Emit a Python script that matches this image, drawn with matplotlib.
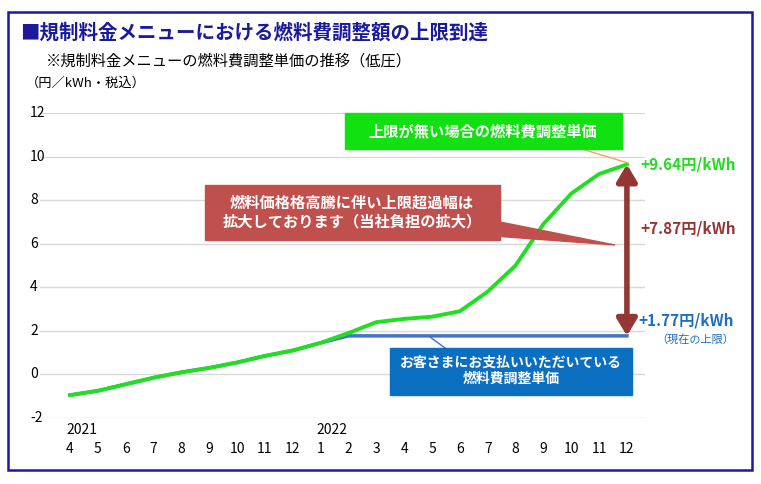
import matplotlib
matplotlib.use("Agg")
import matplotlib.pyplot as plt
from matplotlib.patches import Rectangle, Polygon

plt.rcParams['font.family'] = ['Noto Sans CJK JP', 'DejaVu Sans']

months = ['4','5','6','7','8','9','10','11','12','1','2','3','4','5','6','7','8','9','10','11','12']
years = {0: '2021', 9: '2022'}
uncapped = [-0.95,-0.75,-0.45,-0.15,0.1,0.3,0.55,0.85,1.1,1.45,1.9,2.4,2.55,2.65,2.9,3.8,5.0,6.9,8.3,9.2,9.64]
paid = [-0.95,-0.75,-0.45,-0.15,0.1,0.3,0.55,0.85,1.1,1.45,1.77,1.77,1.77,1.77,1.77,1.77,1.77,1.77,1.77,1.77,1.77]
yticks = [-2,0,2,4,6,8,10,12]

W, H = 761, 484
fig = plt.figure(figsize=(W/100, H/100), dpi=100)
def fx(p): return p/W
def fy(p): return 1-p/H

fig.patches.append(Rectangle((fx(8), fy(470)), fx(744), (470-12)/H, transform=fig.transFigure,
                             fill=False, edgecolor='#1a1aa0', lw=1.8))
ax = fig.add_axes([fx(40), fy(418), fx(605), (418-113)/H])
x = list(range(len(months)))
ax.set_xlim(-1.08, 20.65)
ax.set_ylim(-2, 12)
for t in yticks:
    ax.axhline(t, color='#d9d9d9', lw=1, zorder=0)
ax.plot(x, paid, color='#4472c4', lw=2.5, zorder=2)
ax.plot(x, uncapped, color='#22dd22', lw=2.8, zorder=3)
for s in ax.spines.values(): s.set_visible(False)
ax.set_xticks([]); ax.set_yticks([])
for t in yticks:
    fig.text(fx(30), fy(113 + (12-t)*305/14), str(t), ha='left' if t>=0 else 'left', va='center', fontsize=10)
for i, m in enumerate(months):
    px = 70 + i*27.85
    fig.text(fx(px), fy(449), m, ha='center', va='center', fontsize=10)
    if i in years:
        fig.text(fx(px-4), fy(430), years[i], ha='left', va='center', fontsize=10)

fig.text(fx(20), fy(33), '■規制料金メニューにおける燃料費調整額の上限到達', fontsize=14, fontweight='bold', color='#1a1a9c', va='center')
fig.text(fx(46), fy(61), '※規制料金メニューの燃料費調整単価の推移（低圧）', fontsize=11, va='center')
fig.text(fx(26), fy(83), '（円／kWh・税込）', fontsize=9.5, va='center')

# green box
fig.patches.append(Rectangle((fx(345), fy(149)), fx(277), 36/H, transform=fig.transFigure, color='#11e011', zorder=5))
fig.text(fx(483), fy(131), '上限が無い場合の燃料費調整単価', color='white', fontsize=11, fontweight='bold', ha='center', va='center', zorder=6)
fig.lines.append(plt.Line2D([fx(585), fx(628)], [fy(150), fy(163)], transform=fig.transFigure, color='#f4a460', lw=1))
# red box + wedge
fig.patches.append(Polygon([(fx(480), fy(218)), (fx(615), fy(245)), (fx(480), fy(235))], closed=True, transform=fig.transFigure, color='#c0504d', zorder=5))
fig.patches.append(Rectangle((fx(205), fy(240)), fx(295), 55/H, transform=fig.transFigure, color='#c0504d', zorder=5))
fig.text(fx(352), fy(212), '燃料価格格高騰に伴い上限超過幅は\n拡大しております（当社負担の拡大）', color='white', fontsize=11, fontweight='bold', ha='center', va='center', zorder=6, linespacing=1.2)
# blue box
fig.lines.append(plt.Line2D([fx(430), fx(445)], [fy(337), fy(348)], transform=fig.transFigure, color='#4472c4', lw=1))
fig.patches.append(Rectangle((fx(390), fy(395)), fx(242), 47/H, transform=fig.transFigure, color='#0b6fc1', zorder=5))
fig.text(fx(511), fy(371), 'お客さまにお支払いいただいている\n燃料費調整単価', color='white', fontsize=10, fontweight='bold', ha='center', va='center', zorder=6, linespacing=1.2)

# double arrow
ax.annotate('', xy=(20, uncapped[-1]), xytext=(20, paid[-1]),
            arrowprops=dict(arrowstyle='<|-|>,head_width=0.6,head_length=1.0', color='#943634', lw=4, shrinkA=0, shrinkB=0))
fig.text(fx(640), fy(165), '+9.64円/kWh', color='#22dd22', fontsize=11, fontweight='bold', va='center')
fig.text(fx(640), fy(229), '+7.87円/kWh', color='#943634', fontsize=11, fontweight='bold', va='center')
fig.text(fx(638), fy(320), '+1.77円/kWh', color='#1f6fbf', fontsize=11, fontweight='bold', va='center')
fig.text(fx(695), fy(340), '（現在の上限）', color='#1f6fbf', fontsize=8, ha='center', va='center')

fig.savefig('out.png', dpi=100)
